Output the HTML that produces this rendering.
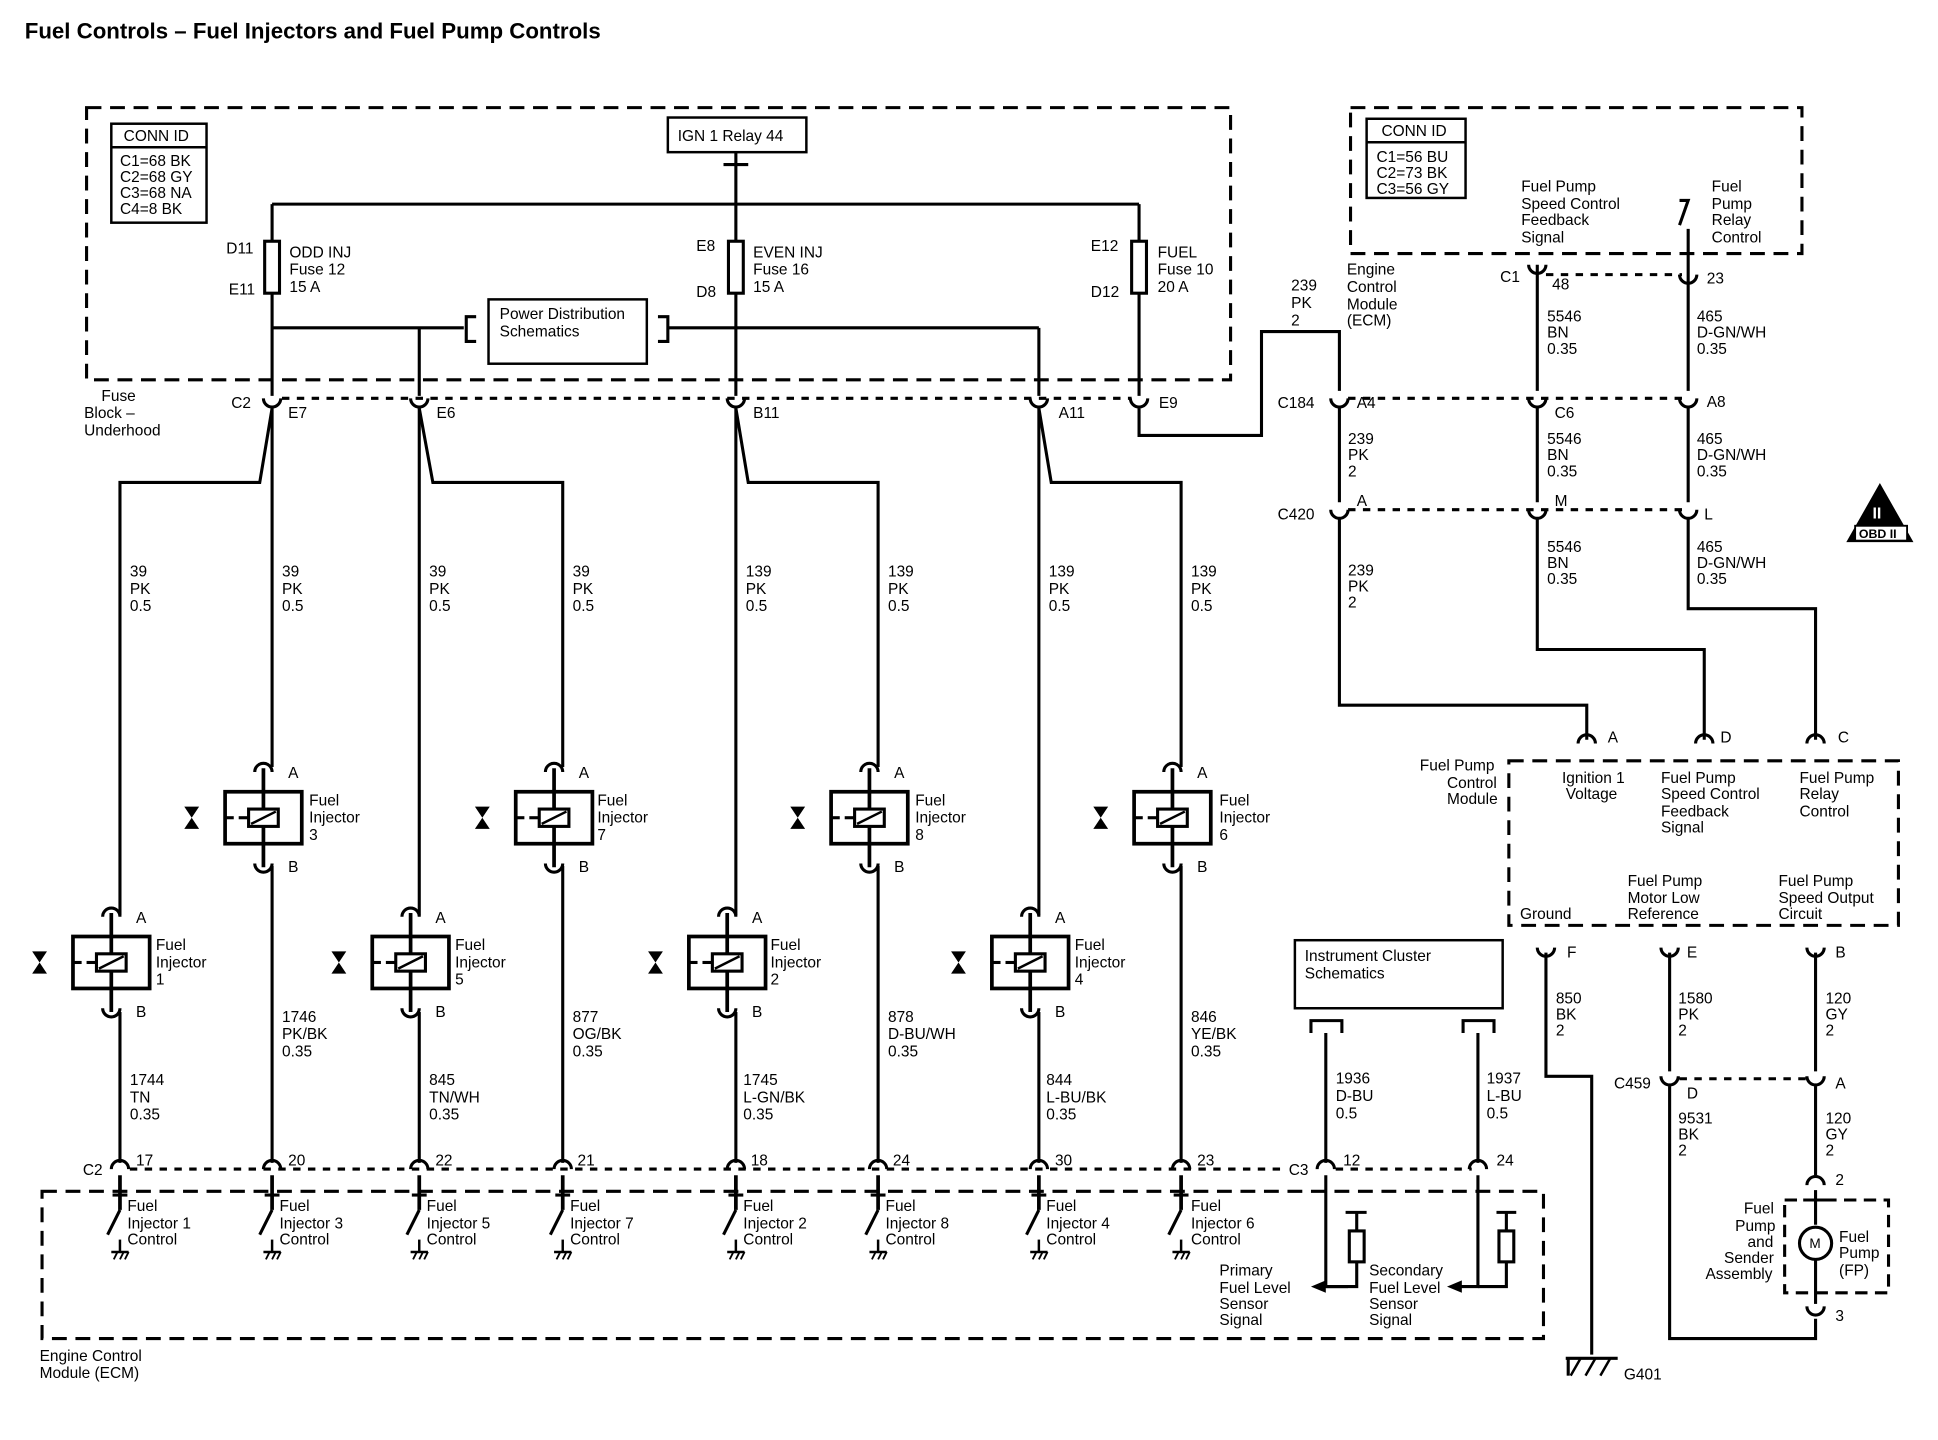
<!DOCTYPE html>
<html><head><meta charset="utf-8"><style>
html,body{margin:0;padding:0;background:#fff;}
svg{display:block}
text{font-family:"Liberation Sans",Arial,sans-serif;font-size:12.5px;fill:#000;}
.t{font-weight:bold;font-size:18px}
</style></head><body>
<svg width="1938" height="1440" viewBox="0 0 1567 1164" preserveAspectRatio="none" xmlns="http://www.w3.org/2000/svg">
<defs>
<g id="cap"><path d="M-7,4 A7,7 0 0 1 7,4" fill="none" stroke="#000" stroke-width="2.5"/></g>
<g id="cup"><path d="M-7,-4 A7,7 0 0 0 7,-4" fill="none" stroke="#000" stroke-width="2.5"/></g>
<g id="inj">
<line x1="0" y1="-40" x2="0" y2="40" stroke="#000" stroke-width="3"/>
<use href="#cap" y="-41"/><use href="#cup" y="41"/>
<rect x="-31" y="-21" width="62" height="42" fill="none" stroke="#000" stroke-width="3"/>
<rect x="-12" y="-7" width="24" height="14" fill="#fff" stroke="#000" stroke-width="2.5"/>
<line x1="-10" y1="5" x2="10" y2="-5" stroke="#000" stroke-width="2"/>
<line x1="-31" y1="0" x2="-24" y2="0" stroke="#000" stroke-width="2.5"/>
<line x1="-20" y1="0" x2="-12" y2="0" stroke="#000" stroke-width="2.5"/>
<path d="M-64,-9 L-52,-9 L-64,9 L-52,9 Z" fill="#000"/>
</g>
<g id="sw">
<line x1="0" y1="0" x2="0" y2="28" stroke="#000" stroke-width="3"/>
<line x1="-6" y1="16" x2="6" y2="16" stroke="#000" stroke-width="2.5"/>
<line x1="0" y1="28" x2="-10" y2="48" stroke="#000" stroke-width="2.5"/>
<line x1="0" y1="52" x2="0" y2="62" stroke="#000" stroke-width="2"/>
<line x1="-7" y1="62" x2="7" y2="62" stroke="#000" stroke-width="2"/>
<path d="M-5,68 L-2,62 M0,68 L3,62 M4,68 L7,62" stroke="#000" stroke-width="1.5"/>
</g>
</defs>
<g fill="none" stroke="#000" stroke-width="2.5">
<rect x="70" y="87" width="925" height="220" stroke-dasharray="12,7"/>
<rect x="90" y="100" width="77" height="80" stroke-width="2"/>
<rect x="540" y="95" width="112" height="28" stroke-width="2"/>
<line x1="595" y1="123" x2="595" y2="320"/>
<line x1="585" y1="133" x2="605" y2="133"/>
<line x1="220" y1="165" x2="921" y2="165"/>
<line x1="220" y1="165" x2="220" y2="320"/>
<line x1="921" y1="165" x2="921" y2="320"/>
<rect x="214" y="195" width="12" height="42" fill="#fff"/>
<rect x="589" y="195" width="12" height="42" fill="#fff"/>
<rect x="915" y="195" width="12" height="42" fill="#fff"/>
<line x1="220" y1="265" x2="375" y2="265"/>
<path d="M385,256 L377,256 L377,276 L385,276"/>
<rect x="395" y="242" width="128" height="52" stroke-width="2"/>
<path d="M532,256 L540,256 L540,276 L532,276"/>
<line x1="540" y1="265" x2="840" y2="265"/>
<line x1="339" y1="265" x2="339" y2="320"/>
<line x1="840" y1="265" x2="840" y2="320"/>
<line x1="228" y1="322" x2="915" y2="322" stroke-dasharray="6,6"/>
<line x1="1090" y1="322" x2="1360" y2="322" stroke-dasharray="6,6"/>
<line x1="1090" y1="412" x2="1360" y2="412" stroke-dasharray="6,6"/>
<path d="M220,330 L210,390 L97,390 L97,740"/>
<line x1="220" y1="330" x2="220" y2="620"/>
<path d="M339,330 L350,390 L455,390 L455,620"/>
<line x1="339" y1="330" x2="339" y2="740"/>
<path d="M595,330 L605,390 L710,390 L710,620"/>
<line x1="595" y1="330" x2="595" y2="740"/>
<path d="M840,330 L850,390 L955,390 L955,620"/>
<line x1="840" y1="330" x2="840" y2="740"/>
<line x1="220" y1="700" x2="220" y2="940"/>
<line x1="455" y1="700" x2="455" y2="940"/>
<line x1="710" y1="700" x2="710" y2="940"/>
<line x1="955" y1="700" x2="955" y2="940"/>
<line x1="97" y1="818" x2="97" y2="940"/>
<line x1="339" y1="818" x2="339" y2="940"/>
<line x1="595" y1="818" x2="595" y2="940"/>
<line x1="840" y1="818" x2="840" y2="940"/>
<line x1="105" y1="945" x2="1038" y2="945" stroke-dasharray="6,6"/>
<line x1="1080" y1="945" x2="1190" y2="945" stroke-dasharray="6,6"/>
<rect x="34" y="963" width="1214" height="119" stroke-dasharray="12,7"/>
<rect x="1092" y="87" width="365" height="118" stroke-dasharray="12,7"/>
<rect x="1105" y="96" width="80" height="64" stroke-width="2"/>
<path d="M921,330 L921,352 L1020,352 L1020,268 L1083,268 L1083,316"/>
<line x1="1083" y1="328" x2="1083" y2="406"/>
<path d="M1083,418 L1083,570 L1283,570 L1283,598"/>
<line x1="1243" y1="214" x2="1243" y2="316"/>
<line x1="1243" y1="328" x2="1243" y2="406"/>
<path d="M1243,418 L1243,525 L1378,525 L1378,598"/>
<path d="M1358,162 L1365,162 L1358,182"/>
<line x1="1365" y1="185" x2="1365" y2="316"/>
<line x1="1365" y1="328" x2="1365" y2="406"/>
<path d="M1365,418 L1365,492 L1468,492 L1468,598"/>
<line x1="1250" y1="222" x2="1360" y2="222" stroke-dasharray="6,6"/>
<rect x="1220" y="615" width="315" height="133" stroke-dasharray="12,7"/>
<path d="M1250,770 L1250,870 L1287,870 L1287,1095"/>
<line x1="1350" y1="770" x2="1350" y2="866"/>
<path d="M1350,878 L1350,1082 L1468,1082 L1468,1066"/>
<line x1="1468" y1="770" x2="1468" y2="866"/>
<line x1="1468" y1="878" x2="1468" y2="950"/>
<line x1="1358" y1="872" x2="1460" y2="872" stroke-dasharray="6,6"/>
<line x1="1468" y1="962" x2="1468" y2="990"/>
<circle cx="1468" cy="1005" r="13"/>
<line x1="1468" y1="1018" x2="1468" y2="1054"/>
<line x1="1458" y1="970" x2="1478" y2="970"/>
<rect x="1443" y="970" width="84" height="75" stroke-dasharray="10,6"/>
<line x1="1266" y1="1098" x2="1308" y2="1098"/>
<path d="M1270,1112 L1278,1098 M1282,1112 L1290,1098 M1294,1112 L1302,1098" stroke-width="2"/>
<line x1="1268" y1="1098" x2="1268" y2="1112"/>
<rect x="1047" y="760" width="168" height="55" stroke-width="2"/>
<path d="M1060,835 L1060,825 L1085,825 L1085,835"/>
<path d="M1183,835 L1183,825 L1208,825 L1208,835"/>
<line x1="1072" y1="835" x2="1072" y2="940"/>
<line x1="1195" y1="835" x2="1195" y2="940"/>
<path d="M1072,950 L1072,1040 L1090,1040"/>
<path d="M1195,950 L1195,1040 L1180,1040"/>
<path d="M1072,1040 L1097,1040 L1097,1020 M1097,995 L1097,980 M1088,980 L1105,980"/>
<rect x="1091" y="995" width="12" height="25"/>
<path d="M1195,1040 L1218,1040 L1218,1020 M1218,995 L1218,980 M1210,980 L1226,980"/>
<rect x="1212" y="995" width="12" height="25"/>
<path d="M1520,393 L1545,437 L1495,437 Z" fill="#000"/>
</g>
<path d="M1060,1040 L1072,1035 L1072,1045 Z"/>
<path d="M1170,1040 L1182,1035 L1182,1045 Z"/>
<g>
<use href="#cup" x="220" y="326"/><use href="#cup" x="339" y="326"/><use href="#cup" x="595" y="326"/><use href="#cup" x="840" y="326"/><use href="#cup" x="921" y="326"/>
<use href="#cup" x="1083" y="326"/><use href="#cup" x="1243" y="326"/><use href="#cup" x="1365" y="326"/>
<use href="#cup" x="1083" y="416"/><use href="#cup" x="1243" y="416"/><use href="#cup" x="1365" y="416"/>
<use href="#cup" x="1243" y="218"/><use href="#cup" x="1365" y="226"/>
<use href="#cap" x="97" y="941"/><use href="#cap" x="220" y="941"/><use href="#cap" x="339" y="941"/><use href="#cap" x="455" y="941"/><use href="#cap" x="595" y="941"/><use href="#cap" x="710" y="941"/><use href="#cap" x="840" y="941"/><use href="#cap" x="955" y="941"/><use href="#cap" x="1072" y="941"/><use href="#cap" x="1195" y="941"/>
<use href="#cap" x="1283" y="597"/><use href="#cap" x="1378" y="597"/><use href="#cap" x="1468" y="597"/>
<use href="#cup" x="1250" y="770"/><use href="#cup" x="1350" y="770"/><use href="#cup" x="1468" y="770"/>
<use href="#cup" x="1350" y="874"/><use href="#cup" x="1468" y="874"/>
<use href="#cap" x="1468" y="954"/><use href="#cup" x="1468" y="1060"/>
</g>
<use href="#inj" x="213" y="661"/><use href="#inj" x="448" y="661"/><use href="#inj" x="703" y="661"/><use href="#inj" x="948" y="661"/>
<use href="#inj" x="90" y="778"/><use href="#inj" x="332" y="778"/><use href="#inj" x="588" y="778"/><use href="#inj" x="833" y="778"/>
<use href="#sw" x="97" y="950"/><use href="#sw" x="220" y="950"/><use href="#sw" x="339" y="950"/><use href="#sw" x="455" y="950"/><use href="#sw" x="595" y="950"/><use href="#sw" x="710" y="950"/><use href="#sw" x="840" y="950"/><use href="#sw" x="955" y="950"/>
<text x="20" y="31" class="t">Fuel Controls – Fuel Injectors and Fuel Pump Controls</text>
<text x="100" y="114">CONN ID</text>
<line x1="90" y1="119" x2="167" y2="119" stroke="#000" stroke-width="2"/>
<text x="97" y="134">C1=68 BK</text><text x="97" y="147">C2=68 GY</text><text x="97" y="160">C3=68 NA</text><text x="97" y="173">C4=8 BK</text>
<text x="548" y="114">IGN 1 Relay 44</text>
<text x="183" y="205">D11</text><text x="185" y="238">E11</text>
<text x="234" y="208">ODD INJ</text><text x="234" y="222">Fuse 12</text><text x="234" y="236">15 A</text>
<text x="563" y="203">E8</text><text x="563" y="240">D8</text>
<text x="609" y="208">EVEN INJ</text><text x="609" y="222">Fuse 16</text><text x="609" y="236">15 A</text>
<text x="882" y="203">E12</text><text x="882" y="240">D12</text>
<text x="936" y="208">FUEL</text><text x="936" y="222">Fuse 10</text><text x="936" y="236">20 A</text>
<text x="404" y="258">Power Distribution</text><text x="404" y="272">Schematics</text>
<text x="82" y="324">Fuse</text><text x="68" y="338">Block –</text><text x="68" y="352">Underhood</text>
<text x="187" y="330">C2</text><text x="233" y="338">E7</text><text x="353" y="338">E6</text><text x="609" y="338">B11</text><text x="856" y="338">A11</text><text x="937" y="330">E9</text>
<g>
<text x="105" y="466">39</text><text x="105" y="480">PK</text><text x="105" y="494">0.5</text>
<text x="228" y="466">39</text><text x="228" y="480">PK</text><text x="228" y="494">0.5</text>
<text x="347" y="466">39</text><text x="347" y="480">PK</text><text x="347" y="494">0.5</text>
<text x="463" y="466">39</text><text x="463" y="480">PK</text><text x="463" y="494">0.5</text>
<text x="603" y="466">139</text><text x="603" y="480">PK</text><text x="603" y="494">0.5</text>
<text x="718" y="466">139</text><text x="718" y="480">PK</text><text x="718" y="494">0.5</text>
<text x="848" y="466">139</text><text x="848" y="480">PK</text><text x="848" y="494">0.5</text>
<text x="963" y="466">139</text><text x="963" y="480">PK</text><text x="963" y="494">0.5</text>
</g>
<g>
<text x="233" y="629">A</text><text x="233" y="705">B</text><text x="468" y="629">A</text><text x="468" y="705">B</text>
<text x="723" y="629">A</text><text x="723" y="705">B</text><text x="968" y="629">A</text><text x="968" y="705">B</text>
<text x="110" y="746">A</text><text x="110" y="822">B</text><text x="352" y="746">A</text><text x="352" y="822">B</text>
<text x="608" y="746">A</text><text x="608" y="822">B</text><text x="853" y="746">A</text><text x="853" y="822">B</text>
<text x="250" y="651">Fuel</text><text x="250" y="665">Injector</text><text x="250" y="679">3</text>
<text x="483" y="651">Fuel</text><text x="483" y="665">Injector</text><text x="483" y="679">7</text>
<text x="740" y="651">Fuel</text><text x="740" y="665">Injector</text><text x="740" y="679">8</text>
<text x="986" y="651">Fuel</text><text x="986" y="665">Injector</text><text x="986" y="679">6</text>
<text x="126" y="768">Fuel</text><text x="126" y="782">Injector</text><text x="126" y="796">1</text>
<text x="368" y="768">Fuel</text><text x="368" y="782">Injector</text><text x="368" y="796">5</text>
<text x="623" y="768">Fuel</text><text x="623" y="782">Injector</text><text x="623" y="796">2</text>
<text x="869" y="768">Fuel</text><text x="869" y="782">Injector</text><text x="869" y="796">4</text>
</g>
<g>
<text x="228" y="826">1746</text><text x="228" y="840">PK/BK</text><text x="228" y="854">0.35</text>
<text x="463" y="826">877</text><text x="463" y="840">OG/BK</text><text x="463" y="854">0.35</text>
<text x="718" y="826">878</text><text x="718" y="840">D-BU/WH</text><text x="718" y="854">0.35</text>
<text x="963" y="826">846</text><text x="963" y="840">YE/BK</text><text x="963" y="854">0.35</text>
<text x="105" y="877">1744</text><text x="105" y="891">TN</text><text x="105" y="905">0.35</text>
<text x="347" y="877">845</text><text x="347" y="891">TN/WH</text><text x="347" y="905">0.35</text>
<text x="601" y="877">1745</text><text x="601" y="891">L-GN/BK</text><text x="601" y="905">0.35</text>
<text x="846" y="877">844</text><text x="846" y="891">L-BU/BK</text><text x="846" y="905">0.35</text>
</g>
<g>
<text x="67" y="950">C2</text><text x="110" y="942">17</text><text x="233" y="942">20</text><text x="352" y="942">22</text><text x="467" y="942">21</text>
<text x="607" y="942">18</text><text x="722" y="942">24</text><text x="853" y="942">30</text><text x="968" y="942">23</text>
<text x="1042" y="950">C3</text><text x="1086" y="942">12</text><text x="1210" y="942">24</text>
</g>
<g>
<text x="103" y="979">Fuel</text><text x="103" y="993">Injector 1</text><text x="103" y="1006">Control</text>
<text x="226" y="979">Fuel</text><text x="226" y="993">Injector 3</text><text x="226" y="1006">Control</text>
<text x="345" y="979">Fuel</text><text x="345" y="993">Injector 5</text><text x="345" y="1006">Control</text>
<text x="461" y="979">Fuel</text><text x="461" y="993">Injector 7</text><text x="461" y="1006">Control</text>
<text x="601" y="979">Fuel</text><text x="601" y="993">Injector 2</text><text x="601" y="1006">Control</text>
<text x="716" y="979">Fuel</text><text x="716" y="993">Injector 8</text><text x="716" y="1006">Control</text>
<text x="846" y="979">Fuel</text><text x="846" y="993">Injector 4</text><text x="846" y="1006">Control</text>
<text x="963" y="979">Fuel</text><text x="963" y="993">Injector 6</text><text x="963" y="1006">Control</text>
</g>
<text x="32" y="1100">Engine Control</text><text x="32" y="1114">Module (ECM)</text>
<text x="1055" y="777">Instrument Cluster</text><text x="1055" y="791">Schematics</text>
<text x="1080" y="876">1936</text><text x="1080" y="890">D-BU</text><text x="1080" y="904">0.5</text>
<text x="1202" y="876">1937</text><text x="1202" y="890">L-BU</text><text x="1202" y="904">0.5</text>
<text x="986" y="1031">Primary</text><text x="986" y="1045">Fuel Level</text><text x="986" y="1058">Sensor</text><text x="986" y="1071">Signal</text>
<text x="1107" y="1031">Secondary</text><text x="1107" y="1045">Fuel Level</text><text x="1107" y="1058">Sensor</text><text x="1107" y="1071">Signal</text>
<text x="1117" y="110">CONN ID</text>
<line x1="1105" y1="115" x2="1185" y2="115" stroke="#000" stroke-width="2"/>
<text x="1113" y="131">C1=56 BU</text><text x="1113" y="144">C2=73 BK</text><text x="1113" y="157">C3=56 GY</text>
<text x="1230" y="155">Fuel Pump</text><text x="1230" y="169">Speed Control</text><text x="1230" y="182">Feedback</text><text x="1230" y="196">Signal</text>
<text x="1384" y="155">Fuel</text><text x="1384" y="169">Pump</text><text x="1384" y="182">Relay</text><text x="1384" y="196">Control</text>
<text x="1213" y="228">C1</text><text x="1255" y="234">48</text><text x="1380" y="229">23</text>
<text x="1044" y="235">239</text><text x="1044" y="249">PK</text><text x="1044" y="263">2</text>
<text x="1089" y="222">Engine</text><text x="1089" y="236">Control</text><text x="1089" y="250">Module</text><text x="1089" y="263">(ECM)</text>
<text x="1033" y="330">C184</text><text x="1097" y="330">A4</text><text x="1257" y="338">C6</text><text x="1380" y="329">A8</text>
<text x="1033" y="420">C420</text><text x="1097" y="409">A</text><text x="1257" y="409">M</text><text x="1378" y="420">L</text>
<text x="1251" y="260">5546</text><text x="1251" y="273">BN</text><text x="1251" y="286">0.35</text>
<text x="1372" y="260">465</text><text x="1372" y="273">D-GN/WH</text><text x="1372" y="286">0.35</text>
<text x="1090" y="359">239</text><text x="1090" y="372">PK</text><text x="1090" y="385">2</text>
<text x="1251" y="359">5546</text><text x="1251" y="372">BN</text><text x="1251" y="385">0.35</text>
<text x="1372" y="359">465</text><text x="1372" y="372">D-GN/WH</text><text x="1372" y="385">0.35</text>
<text x="1090" y="465">239</text><text x="1090" y="478">PK</text><text x="1090" y="491">2</text>
<text x="1251" y="446">5546</text><text x="1251" y="459">BN</text><text x="1251" y="472">0.35</text>
<text x="1372" y="446">465</text><text x="1372" y="459">D-GN/WH</text><text x="1372" y="472">0.35</text>
<text x="1300" y="600">A</text><text x="1391" y="600">D</text><text x="1486" y="600">C</text>
<text x="1148" y="623">Fuel Pump</text><text x="1170" y="637">Control</text><text x="1170" y="650">Module</text>
<text x="1263" y="633">Ignition 1</text><text x="1266" y="646">Voltage</text>
<text x="1343" y="633">Fuel Pump</text><text x="1343" y="646">Speed Control</text><text x="1343" y="660">Feedback</text><text x="1343" y="673">Signal</text>
<text x="1455" y="633">Fuel Pump</text><text x="1455" y="646">Relay</text><text x="1455" y="660">Control</text>
<text x="1229" y="743">Ground</text>
<text x="1316" y="716">Fuel Pump</text><text x="1316" y="730">Motor Low</text><text x="1316" y="743">Reference</text>
<text x="1438" y="716">Fuel Pump</text><text x="1438" y="730">Speed Output</text><text x="1438" y="743">Circuit</text>
<text x="1267" y="774">F</text><text x="1364" y="774">E</text><text x="1484" y="774">B</text>
<text x="1258" y="811">850</text><text x="1258" y="824">BK</text><text x="1258" y="837">2</text>
<text x="1357" y="811">1580</text><text x="1357" y="824">PK</text><text x="1357" y="837">2</text>
<text x="1476" y="811">120</text><text x="1476" y="824">GY</text><text x="1476" y="837">2</text>
<text x="1305" y="880">C459</text><text x="1364" y="888">D</text><text x="1484" y="880">A</text>
<text x="1357" y="908">9531</text><text x="1357" y="921">BK</text><text x="1357" y="934">2</text>
<text x="1476" y="908">120</text><text x="1476" y="921">GY</text><text x="1476" y="934">2</text>
<text x="1484" y="958">2</text><text x="1484" y="1068">3</text>
<text x="1410" y="981">Fuel</text><text x="1403" y="995">Pump</text><text x="1413" y="1008">and</text><text x="1394" y="1021">Sender</text><text x="1379" y="1034">Assembly</text>
<text x="1463" y="1009" style="font-size:11px">M</text>
<text x="1487" y="1004">Fuel</text><text x="1487" y="1017">Pump</text><text x="1487" y="1031">(FP)</text>
<text x="1313" y="1115">G401</text>
<rect x="1500" y="425" width="42" height="12" fill="#fff" stroke="#000" stroke-width="1.5"/>
<text x="1503" y="435" style="font-size:10px;font-weight:bold">OBD II</text>
<text x="1514" y="419" style="font-size:13px;font-weight:bold;fill:#fff">II</text>
</svg>
</body></html>
